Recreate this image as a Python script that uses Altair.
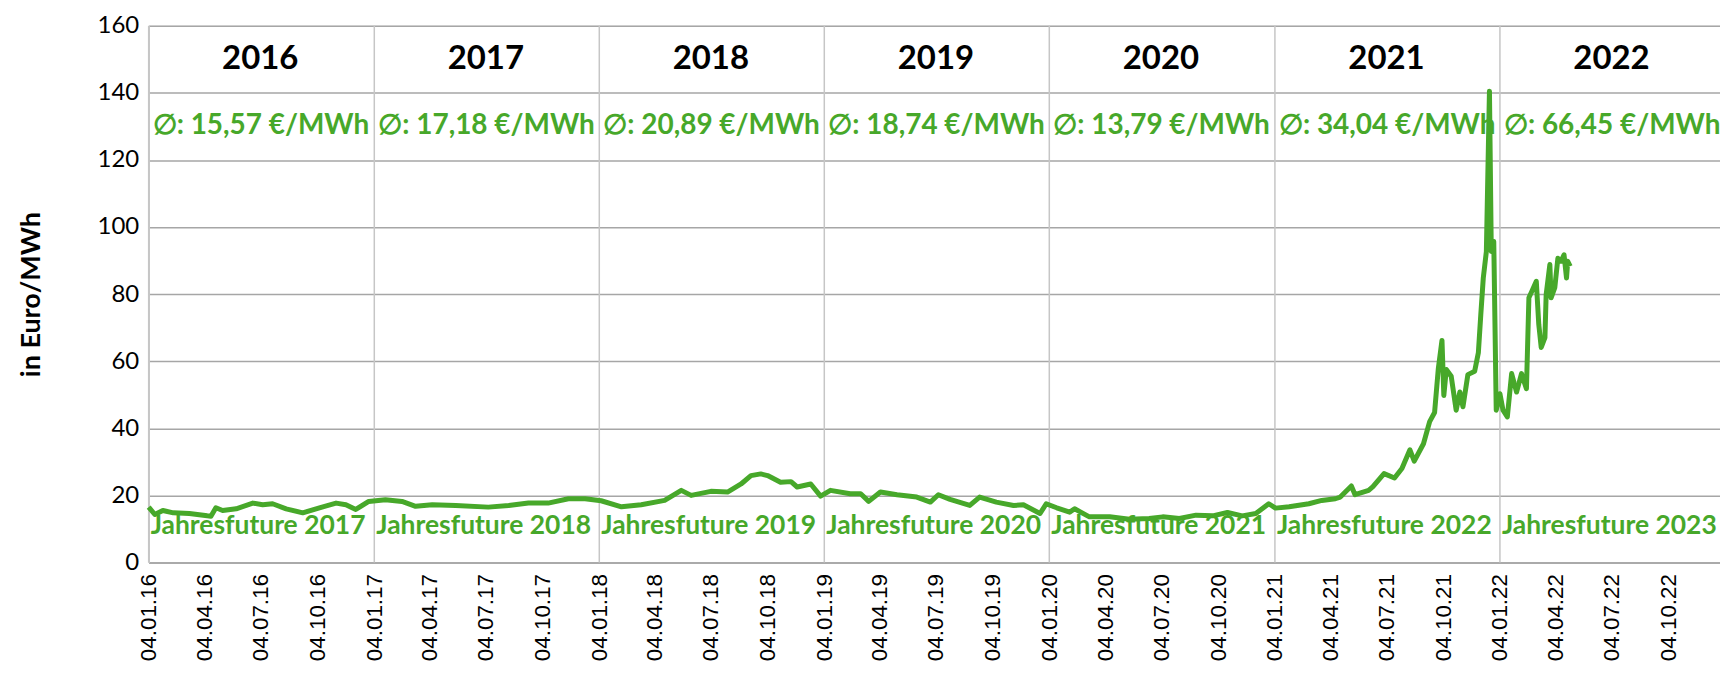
import altair as alt
import pandas as pd

# ---- data ----
dates = [
    "2016-01-04", "2016-01-14", "2016-01-27", "2016-02-13", "2016-03-10", "2016-04-08",
    "2016-04-14", "2016-04-22", "2016-05-03", "2016-05-25", "2016-06-21", "2016-07-07",
    "2016-07-23", "2016-08-14", "2016-09-10", "2016-10-07", "2016-11-03", "2016-11-19",
    "2016-12-05", "2016-12-26", "2017-01-22", "2017-02-18", "2017-03-12", "2017-04-08",
    "2017-05-16", "2017-07-08", "2017-08-10", "2017-09-11", "2017-10-13", "2017-11-15",
    "2017-12-12", "2018-01-07", "2018-02-09", "2018-03-13", "2018-04-20", "2018-05-17",
    "2018-06-02", "2018-07-04", "2018-07-31", "2018-08-22", "2018-09-07", "2018-09-23",
    "2018-10-04", "2018-10-25", "2018-11-11", "2018-11-21", "2018-12-13", "2018-12-29",
    "2019-01-14", "2019-02-15", "2019-03-04", "2019-03-17", "2019-04-05", "2019-05-02",
    "2019-06-03", "2019-06-25", "2019-07-08", "2019-07-27", "2019-08-28", "2019-09-13",
    "2019-10-10", "2019-11-07", "2019-11-23", "2019-12-20", "2019-12-30", "2020-01-16",
    "2020-02-06", "2020-02-14", "2020-03-09", "2020-04-11", "2020-05-13", "2020-06-14",
    "2020-07-06", "2020-08-02", "2020-08-29", "2020-09-25", "2020-10-19", "2020-11-12",
    "2020-12-04", "2020-12-25", "2021-01-05", "2021-01-27", "2021-02-28", "2021-03-21",
    "2021-04-12", "2021-04-20", "2021-05-08", "2021-05-14", "2021-06-05", "2021-06-12",
    "2021-06-30", "2021-07-17", "2021-07-29", "2021-08-11", "2021-08-18", "2021-09-02",
    "2021-09-12", "2021-09-20", "2021-09-26", "2021-10-02", "2021-10-05", "2021-10-09",
    "2021-10-17", "2021-10-25", "2021-10-31", "2021-11-05", "2021-11-13", "2021-11-24",
    "2021-11-30", "2021-12-04", "2021-12-08", "2021-12-13", "2021-12-18", "2021-12-21",
    "2021-12-25", "2021-12-29", "2022-01-04", "2022-01-09", "2022-01-16", "2022-01-23",
    "2022-01-31", "2022-02-08", "2022-02-16", "2022-02-20", "2022-02-25", "2022-03-04",
    "2022-03-08", "2022-03-12", "2022-03-18", "2022-03-20", "2022-03-26", "2022-03-28",
    "2022-04-03", "2022-04-08", "2022-04-13", "2022-04-18", "2022-04-22", "2022-04-24",
    "2022-04-28",
]
values = [
    16.5, 14.3, 15.5, 14.8, 14.6, 13.9,
    13.8, 16.3, 15.5, 16.0, 17.7, 17.2,
    17.5, 16.0, 14.8, 16.3, 17.7, 17.2,
    15.8, 18.2, 18.7, 18.2, 16.75, 17.2,
    17.0, 16.5, 17.0, 17.7, 17.7, 19.0,
    19.0, 18.4, 16.6, 17.2, 18.5, 21.5,
    20.0, 21.2, 21.0, 23.4, 25.9, 26.4,
    25.9, 23.9, 24.1, 22.5, 23.4, 19.8,
    21.5, 20.5, 20.5, 18.2, 21.0, 20.2,
    19.5, 18.0, 20.2, 18.8, 17.0, 19.5,
    18.0, 17.0, 17.2, 14.6, 17.5, 16.3,
    15.0, 16.0, 13.6, 13.6, 12.9, 13.1,
    13.6, 13.1, 14.1, 13.9, 14.9, 13.9,
    14.6, 17.5, 16.2, 16.6, 17.5, 18.5,
    19.0, 19.5, 22.8, 20.2, 21.5, 22.6,
    26.5, 25.2, 28.0, 33.6, 30.2, 35.4,
    42.0, 44.7, 57.7, 66.2, 49.8, 57.5,
    55.5, 45.4, 50.8, 46.4, 56.0, 57.0,
    62.5, 74.0, 84.8, 92.7, 140.5, 92.7,
    95.7, 45.4, 50.3, 45.4, 43.4, 56.3,
    50.8, 56.3, 51.8, 78.9, 80.9, 83.8,
    71.0, 64.1, 67.0, 79.9, 88.8, 78.9,
    81.9, 90.7, 89.8, 91.7, 84.8, 89.8,
    88.3,
]
years = ["2016", "2017", "2018", "2019", "2020", "2021", "2022"]
year_starts = ["2016-01-04", "2017-01-04", "2018-01-04", "2019-01-04",
               "2020-01-04", "2021-01-04", "2022-01-04"]
averages = ["15,57", "17,18", "20,89", "18,74", "13,79", "34,04", "66,45"]
futures = ["Jahresfuture 2017", "Jahresfuture 2018", "Jahresfuture 2019",
           "Jahresfuture 2020", "Jahresfuture 2021", "Jahresfuture 2022",
           "Jahresfuture 2023"]
tick_dates = [f"{y}-{m}-04" for y in range(2016, 2023) for m in ("01", "04", "07", "10")]
y_ticks = [0, 20, 40, 60, 80, 100, 120, 140, 160]


def ms(d):
    return int(pd.Timestamp(d, tz="UTC").value // 10**6)


GREEN = "#47A82A"
H_GRID = "#a6a6a6"
V_GRID = "#c6c6c6"

series = pd.DataFrame({"date": dates, "value": values})
years_df = pd.DataFrame({
    "start": year_starts,
    "mid": [str((pd.Timestamp(s) + pd.Timedelta(days=181)).date()) for s in year_starts],
    "year": years,
    "avg": ["\u2205: " + a + " \u20ac/MWh" for a in averages],
    "future": futures,
})

x_scale = alt.Scale(type="utc", domain=[ms("2016-01-04"), ms("2022-12-27")])
x_axis = alt.Axis(
    values=[ms(d) for d in tick_dates],
    labelExpr="utcFormat(datum.value, '%d.%m.%y')",
    labelAngle=-90, labelAlign="right", labelBaseline="middle", labelPadding=11,
    labelFont="Liberation Sans", labelFontSize=22.5, labelColor="black",
    labelOverlap=False, labelFlush=False, ticks=False, grid=False,
    domainColor=H_GRID, domainWidth=1.5,
)
y_scale = alt.Scale(domain=[0, 160], nice=False)
y_axis = alt.Axis(
    values=y_ticks, grid=True, gridColor=H_GRID, gridWidth=1.5, ticks=False,
    domainColor=V_GRID, domainWidth=1.5,
    labelFont="Lato", labelFontSize=24, labelColor="black", labelPadding=10,
    titleFont="Lato", titleFontSize=27, titleFontWeight="bold", titleColor="black",
    titlePadding=52,
)


def X(field):
    return alt.X(field, type="temporal", title=None, scale=x_scale, axis=x_axis)


rules = alt.Chart(years_df).mark_rule(color=V_GRID, strokeWidth=1.5).encode(
    x=X("start"),
    y=alt.Y(datum=0, scale=y_scale, axis=y_axis, title="in Euro/MWh"),
    y2=alt.datum(160),
)

year_text = alt.Chart(years_df).mark_text(
    font="Lato", fontSize=33, fontWeight="bold", color="black", baseline="middle"
).encode(x=X("mid"), y=alt.datum(150), text="year:N")

avg_text = alt.Chart(years_df).mark_text(
    font="Lato", fontSize=28, fontWeight="bold", color=GREEN, align="left",
    baseline="middle", dx=4,
).encode(x=X("start"), y=alt.datum(130), text="avg:N")

fut_text = alt.Chart(years_df).mark_text(
    font="Lato", fontSize=26.5, fontWeight="bold", color=GREEN, align="left",
    baseline="middle", dx=2,
).encode(x=X("start"), y=alt.datum(11), text="future:N")

line = alt.Chart(series).mark_line(color=GREEN, strokeWidth=5, strokeJoin="round").encode(
    x=X("date"),
    y=alt.Y("value:Q", scale=y_scale, axis=y_axis, title="in Euro/MWh"),
)

chart = alt.layer(rules, year_text, avg_text, fut_text, line).properties(
    width=1575, height=538,
    autosize=alt.AutoSizeParams(type="none"),
    padding={"left": 141, "top": 17, "right": 0, "bottom": 104},
).configure_view(stroke=None).configure(background="white")

chart.save("out.html", embed_options={"renderer": "svg", "actions": False})
